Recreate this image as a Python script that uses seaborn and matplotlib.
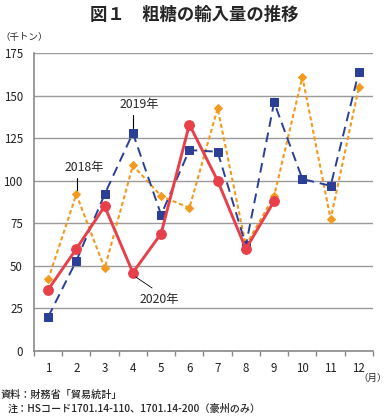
import matplotlib
matplotlib.use("Agg")
import matplotlib.pyplot as plt
import seaborn as sns
import pandas as pd
from matplotlib.ticker import MultipleLocator, FixedLocator

months = list(range(1, 13))
y2018 = [42, 92, 48.5, 109, 91, 84, 142.5, 62, 91, 161, 77.5, 155]
y2019 = [20, 53, 92, 128, 80, 118, 117, 62, 146, 101, 97, 164]
y2020 = [36, 60, 85, 46, 69, 133, 100, 60, 88]
month_labels = [str(m) for m in months]

sns.set_theme(style="white")
plt.rcParams['font.family'] = ['Noto Sans CJK JP', 'DejaVu Sans']

fig = plt.figure(figsize=(3.89, 4.20), dpi=100)
ax = fig.add_axes([34/389, 69/420, 339/389, 298/420])

c18, c19, c20 = "#f39a1f", "#2b3f96", "#e8404a"

d18 = pd.DataFrame({"month": months, "v": y2018})
d19 = pd.DataFrame({"month": months, "v": y2019})
d20 = pd.DataFrame({"month": months[:len(y2020)], "v": y2020})

sns.lineplot(data=d18, x="month", y="v", ax=ax, color=c18, lw=1.5,
             linestyle=(0, (2, 1.3)), marker="D", markersize=4.5,
             markeredgecolor=c18, zorder=3)
sns.lineplot(data=d19, x="month", y="v", ax=ax, color=c19, lw=1.4,
             linestyle=(0, (5, 3)), marker="s", markersize=6.3,
             markeredgecolor=c19, zorder=4)
sns.lineplot(data=d20, x="month", y="v", ax=ax, color=c20, lw=2.1,
             linestyle="-", marker="o", markersize=7,
             markeredgecolor=c20, zorder=5)

ax.set_xlim(0.5, 12.5)
ax.set_ylim(0, 175)
ax.yaxis.set_major_locator(MultipleLocator(25))
ax.set_xticks(months)
ax.set_xticklabels(month_labels)
ax.xaxis.set_minor_locator(FixedLocator([m + 0.5 for m in range(0, 13)]))
ax.set_xlabel("")
ax.set_ylabel("")
ax.grid(axis="y", color="#9a9a9a", lw=1)
ax.set_axisbelow(True)
for s in ["top", "right"]:
    ax.spines[s].set_visible(False)
for s in ["left", "bottom"]:
    ax.spines[s].set_color("#8a8a8a")
    ax.spines[s].set_linewidth(1.2)
ax.tick_params(axis="x", which="major", length=0, pad=8, labelsize=8.3, colors="#222222")
ax.tick_params(axis="x", which="minor", length=3.5, width=1, color="#8a8a8a", direction="out", bottom=True)
ax.tick_params(axis="y", length=0, pad=8, labelsize=8.3, colors="#222222")

# annotation leader lines and labels
ax.plot([4.0, 4.0], [138.5, 131], color="black", lw=0.8, zorder=6)
ax.text(4.22, 144.5, "2019年", fontsize=8.8, ha="center", va="center")
ax.plot([2.02, 2.02], [101.5, 94.5], color="black", lw=0.8, zorder=6)
ax.text(2.27, 107.5, "2018年", fontsize=8.8, ha="center", va="center")
ax.plot([4.1, 4.68], [43.5, 37], color="black", lw=0.6, zorder=6)
ax.text(4.92, 30, "2020年", fontsize=8.8, ha="center", va="center")

fig.text(0.5, 1 - 15/420, "図１　粗糖の輸入量の推移", ha="center", va="center",
         fontsize=12.5, fontweight="bold")
fig.text(0/389, 1 - 37/420, "（千トン）", ha="left", va="center", fontsize=6.8)
fig.text(387/389, 1 - 378/420, "（月）", ha="right", va="center", fontsize=6.8)
fig.text(1/389, 1 - 395/420, "資料：財務省「貿易統計」", ha="left", va="center",
         fontsize=7.3, fontweight="medium")
fig.text(8/389, 1 - 409/420, "注：HSコード1701.14-110、1701.14-200（豪州のみ）", ha="left",
         va="center", fontsize=7.3, fontweight="medium")

fig.savefig("out.png", dpi=100)
